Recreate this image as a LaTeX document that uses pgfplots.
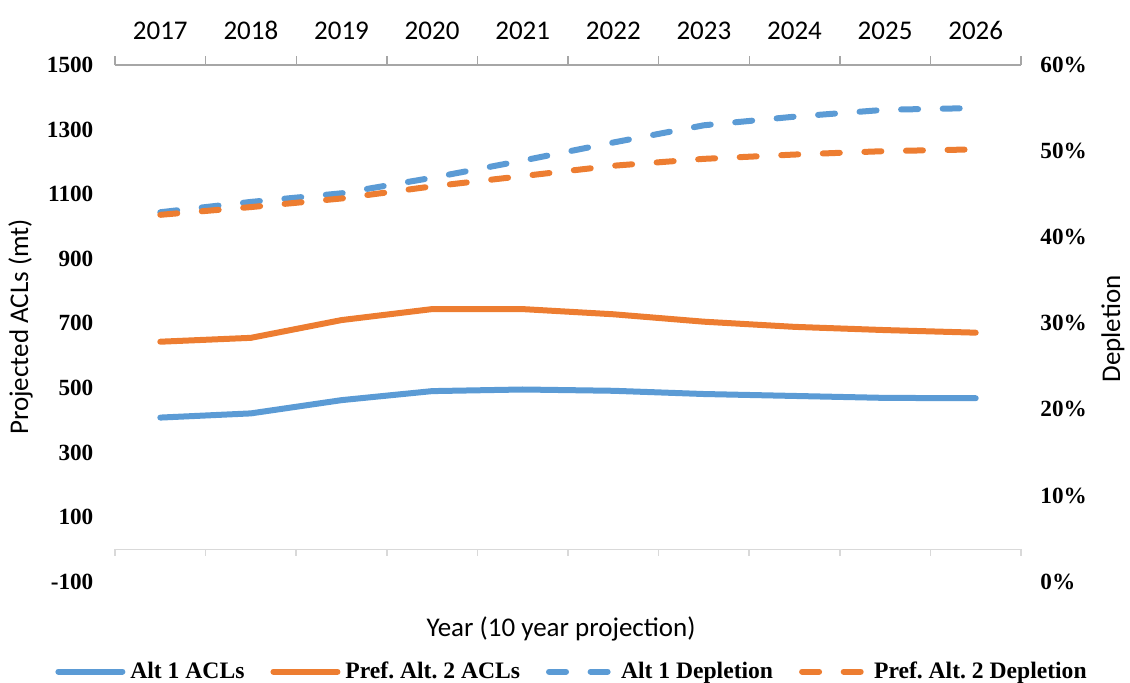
\documentclass[border=0pt]{standalone}
\usepackage{pgfplots}
\pgfplotsset{compat=1.18}
\usepackage{pgfplotstable}
\usepackage{fontspec}
\setmainfont{Liberation Serif}
\newfontfamily\sansf{Carlito}
\newfontfamily\libserif{Liberation Serif}
\newcommand\sansfont{\sansf\fontsize{13.5}{16}\selectfont}
\newcommand\numfont{\libserif\bfseries\fontsize{11.6}{13.9}\selectfont}
\newcommand\legfont{\libserif\bfseries\fontsize{11.8}{14}\selectfont}
\frenchspacing
\definecolor{cblue}{HTML}{5B9BD5}
\definecolor{corange}{HTML}{ED7D31}
\definecolor{topline}{HTML}{A6A6A6}
\definecolor{botline}{HTML}{D9D9D9}

\pgfplotstableread{
x   a1   a2
0.5 408  643
1.5 421  655
2.5 462  710
3.5 490  744
4.5 495  744
5.5 491  728
6.5 481  705
7.5 475  689
8.5 469  679
9.5 468  671
}\aclt

\pgfplotstableread{
x   d1   d2
0.5 42.9 42.6
1.5 44.1 43.5
2.5 45.1 44.5
3.5 46.9 45.9
4.5 48.9 47.1
5.5 51.0 48.3
6.5 53.0 49.1
7.5 54.0 49.6
8.5 54.8 50.0
9.5 55.0 50.2
}\dept

\tikzset{
  solidline/.style={line width=3pt, line join=round, line cap=round},
  dashline/.style={line width=3pt, line join=round, line cap=round, dash pattern=on 8.5pt off 12.3pt},
}

\begin{document}
\frenchspacing
\begin{tikzpicture}
\path[use as bounding box] (-57.5pt,-50.2pt) rectangle (507.5pt,290.8pt);
\begin{axis}[
  at={(0pt,0pt)}, anchor=south west, scale only axis,
  width=453pt, height=258.3pt,
  xmin=0, xmax=10, ymin=-100, ymax=1500,
  clip=false,
  axis line style={draw=none},
  tick style={draw=none},
  xtick={0.5,1.5,2.5,3.5,4.5,5.5,6.5,7.5,8.5,9.5},
  xticklabels={2017,2018,2019,2020,2021,2022,2023,2024,2025,2026},
  xticklabel pos=upper,
  xticklabel style={font=\sansfont, anchor=base, yshift=12.85pt},
  ytick={-100,100,300,500,700,900,1100,1300,1500},
  yticklabels={-100,100,300,500,700,900,1100,1300,1500},
  yticklabel style={font=\numfont, anchor=east, xshift=-7.3pt},
  ylabel={Projected ACLs (mt)},
  ylabel style={font=\sansfont, at={(axis description cs:-0.1043,0.493)}, anchor=center, rotate=0},
  xlabel={Year (10 year projection)},
  xlabel style={font=\sansfont, at={(axis description cs:0.4923,-0.1072)}, anchor=base},
]
\draw[topline, line width=0.7pt] (axis cs:0,1500) -- (axis cs:10,1500);
\pgfplotsinvokeforeach{0,...,10}{\draw[topline, line width=0.7pt] (axis cs:#1,1500) -- ++(0pt,4.3pt);}
\draw[botline, line width=0.8pt] (axis cs:0,0) -- (axis cs:10,0);
\pgfplotsinvokeforeach{0,...,10}{\draw[botline, line width=0.8pt] (axis cs:#1,0) -- ++(0pt,-3.5pt);}
\addplot[cblue, solidline] table[x=x, y=a1] {\aclt};
\addplot[corange, solidline] table[x=x, y=a2] {\aclt};
\end{axis}
\begin{axis}[
  at={(0pt,0pt)}, anchor=south west, scale only axis,
  width=453pt, height=258.3pt,
  xmin=0, xmax=10, ymin=0, ymax=60,
  clip=false,
  axis line style={draw=none},
  tick style={draw=none},
  xtick=\empty,
  yticklabel pos=right,
  ytick={0,10,20,30,40,50,60},
  yticklabels={0\%,10\%,20\%,30\%,40\%,50\%,60\%},
  yticklabel style={font=\numfont, anchor=west, xshift=6.2pt},
  ylabel={Depletion},
  ylabel style={font=\sansfont, at={(axis description cs:1.1015,0.489)}, anchor=center, rotate=0},
  legend columns=4,
  legend image code/.code={\draw[#1] (0pt,0pt) -- (32pt,0pt);},
  legend style={at={(axis description cs:0.505,-0.1743)}, anchor=center, draw=none, fill=none,
    font=\legfont, inner sep=0pt,
    nodes={inner sep=1.5pt},
    /tikz/every odd column/.append style={column sep=1pt},
    /tikz/every even column/.append style={column sep=11.5pt}},
]
\addlegendimage{cblue, solidline}
\addlegendentry{Alt 1 ACLs}
\addlegendimage{corange, solidline}
\addlegendentry{Pref. Alt. 2 ACLs}
\addplot[cblue, dashline] table[x=x, y=d1] {\dept};
\addlegendentry{Alt 1 Depletion}
\addplot[corange, dashline] table[x=x, y=d2] {\dept};
\addlegendentry{Pref. Alt. 2 Depletion}
\end{axis}
\end{tikzpicture}
\end{document}
